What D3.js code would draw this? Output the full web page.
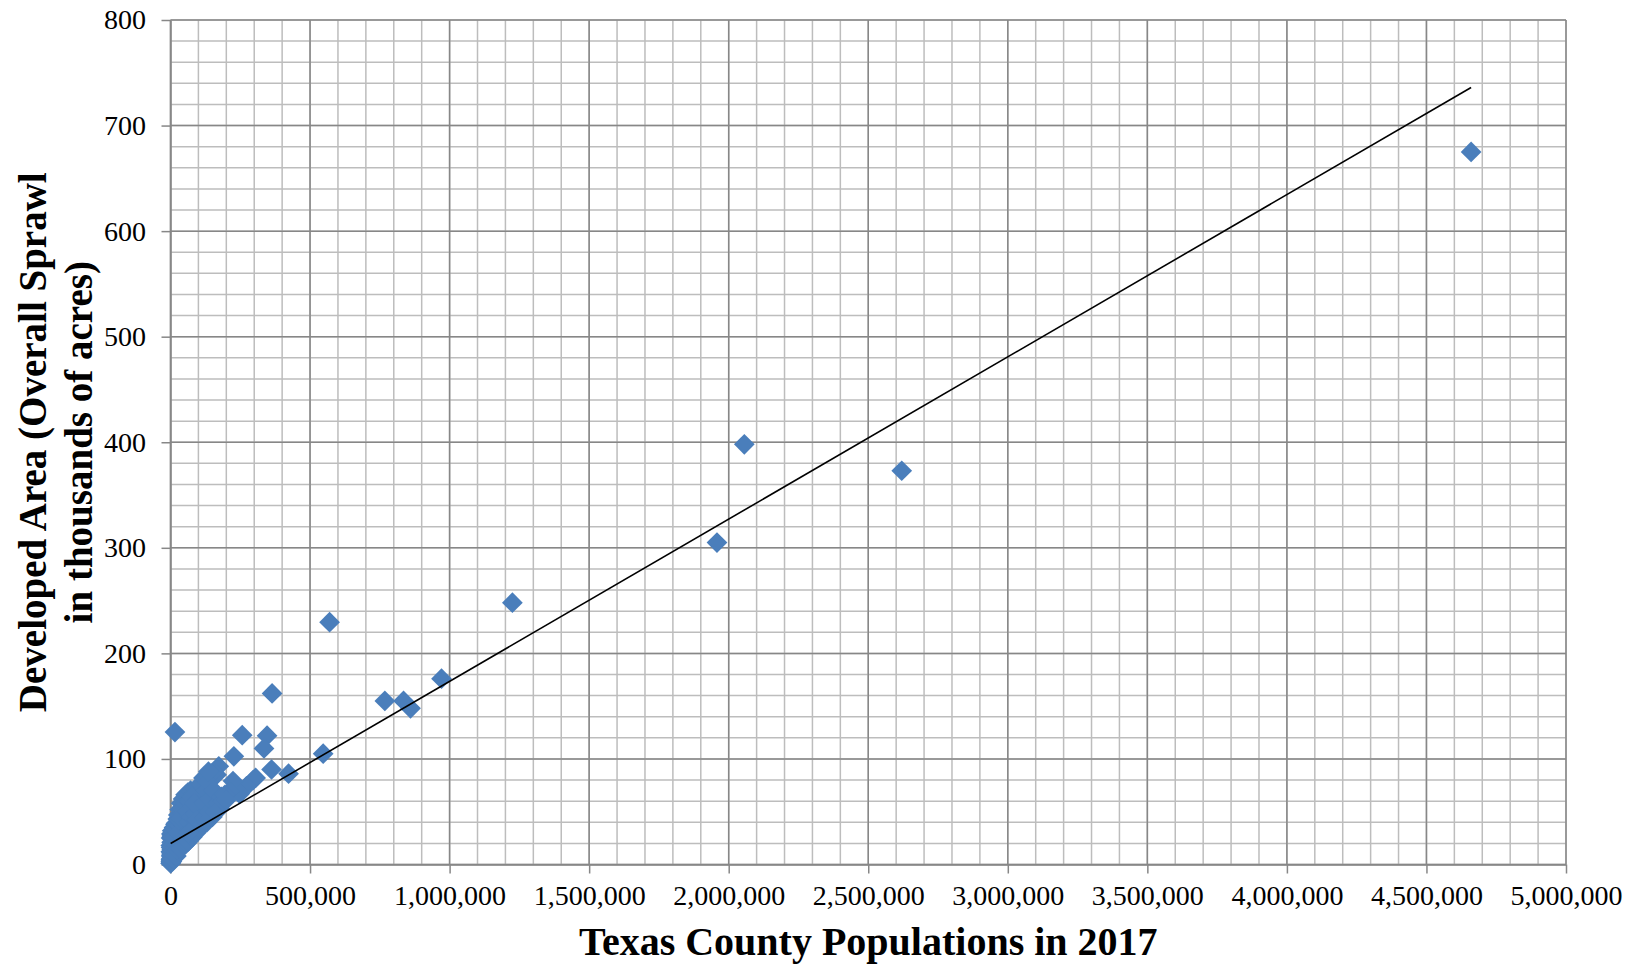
<!DOCTYPE html>
<html>
<head>
<meta charset="utf-8">
<script src="https://cdn.jsdelivr.net/npm/d3@7/dist/d3.min.js"></script>
<style>
  body { margin: 0; background: #fff; }
  svg { display: block; }
</style>
</head>
<body>
<script>
// county population (2017) and developed area (thousand acres)
const population = [
  4660000, 2620000, 2056000, 1958000, 1225000, 971000, 860000, 835000, 768000, 570000,
  547000, 423000, 364000, 362000, 346000, 335000, 305000, 296000, 272000, 257000,
  248000, 227000, 224000, 212000, 173000, 165000, 147000, 16000,
  500, 1000, 1500, 2000, 2500, 3000, 3500, 4000, 4500, 5000,
  5500, 6000, 6500, 7000, 7500, 8000, 8500, 9000, 9500, 1000,
  2000, 3000, 1200, 2200, 4000, 5000, 6000, 3300, 7300, 8700,
  10000, 11000, 12000, 13000, 14000, 15000, 16000, 17000, 18000, 19000,
  20000, 21000, 26000, 23000, 24000, 25000, 12500, 20000, 11500,
  26000, 28000, 30000, 32000, 33000, 35000, 36000, 38000, 40000, 42000,
  44000, 45000, 47000, 49000, 50000, 52000, 54000, 55000, 57000, 58000,
  29000, 31000, 37000, 41000, 46000, 53000, 56000,
  60000, 62000, 64000, 66000, 68000, 70000, 72000, 75000, 78000, 80000,
  82000, 85000, 88000, 90000, 92000, 95000, 98000, 100000, 104000, 108000,
  65000, 77000, 86000, 94000,
  112000, 115000, 118000, 120000, 124000, 127000, 130000, 134000, 138000, 142000,
  150000, 155000, 160000, 170000, 177000, 182000, 188000, 195000, 200000, 136000
]
const developed = [
  675, 373, 398, 305, 248, 176, 148, 155, 155, 229.5,
  105, 86, 162, 90, 122, 110, 82, 80, 74, 122.5,
  67, 102.5, 79, 69, 93, 85, 86, 125.5,
  1, 3, 5, 2, 8, 4, 11, 6, 14, 3,
  9, 17, 12, 5, 20, 8, 15, 24, 11, 18,
  25, 29, 12, 16, 21, 27, 32, 9, 26, 30,
  6, 13, 19, 27, 9, 34, 16, 22, 38, 12,
  28, 8, 43, 18, 31, 24, 35, 39, 25,
  14, 47, 20, 37, 52, 28, 15, 58, 33, 22,
  48, 62, 38, 18, 54, 28, 66, 44, 35, 24,
  30, 42, 44, 53, 27, 58, 20,
  50, 68, 22, 40, 60, 32, 70, 45, 26, 55,
  66, 35, 48, 72, 30, 60, 40, 68, 34, 52,
  30, 64, 58, 42,
  75, 38, 82, 58, 44, 70, 40, 78, 50, 62,
  45, 70, 50, 58, 53, 64, 60, 66, 61, 88
]

// linear trendline as drawn (thousand acres = intercept + slope * population)
const trendIntercept = 19.8
const trendSlope = 153.7 / 1e6

const xTicks = d3.range(0, 5000001, 500000)
const xMinor = d3.range(0, 5000001, 100000)
const yTicks = d3.range(0, 801, 100)
const yMinor = d3.range(0, 801, 20)

const xTitle = 'Texas County Populations in 2017'
const yTitle = ['Developed Area (Overall Sprawl', 'in thousands of acres)']

const width = 1637
const height = 966
const margin = { top: 20, right: 71, bottom: 101.5, left: 170.5 }

const points = population.map((p, i) => ({ pop: p, area: developed[i] }))

const x = d3.scaleLinear().domain([0, 5000000]).range([margin.left, width - margin.right])
const y = d3.scaleLinear().domain([0, 800]).range([height - margin.bottom, margin.top])

const svg = d3
  .select('body')
  .append('svg')
  .attr('width', width)
  .attr('height', height)
  .style('font-family', "'Liberation Serif', serif")

// grid
const grid = svg.append('g')
grid
  .selectAll('.vminor')
  .data(xMinor)
  .join('line')
  .attr('x1', (d) => x(d))
  .attr('x2', (d) => x(d))
  .attr('y1', y(0))
  .attr('y2', y(800))
  .attr('stroke', '#bdbdbd')
  .attr('stroke-width', 1.5)
grid
  .selectAll('.hminor')
  .data(yMinor)
  .join('line')
  .attr('x1', x(0))
  .attr('x2', x(5000000))
  .attr('y1', (d) => y(d))
  .attr('y2', (d) => y(d))
  .attr('stroke', '#bdbdbd')
  .attr('stroke-width', 1.5)
grid
  .selectAll('.vmajor')
  .data(xTicks)
  .join('line')
  .attr('x1', (d) => x(d))
  .attr('x2', (d) => x(d))
  .attr('y1', y(0))
  .attr('y2', y(800))
  .attr('stroke', '#878787')
  .attr('stroke-width', 1.5)
grid
  .selectAll('.hmajor')
  .data(yTicks)
  .join('line')
  .attr('x1', x(0))
  .attr('x2', x(5000000))
  .attr('y1', (d) => y(d))
  .attr('y2', (d) => y(d))
  .attr('stroke', '#878787')
  .attr('stroke-width', 1.5)

// axes
const xAxis = svg
  .append('g')
  .attr('transform', `translate(0,${y(0)})`)
  .call(d3.axisBottom(x).tickValues(xTicks).tickFormat(d3.format(',')).tickSize(9).tickSizeOuter(0))
const yAxis = svg
  .append('g')
  .attr('transform', `translate(${x(0)},0)`)
  .call(d3.axisLeft(y).tickValues(yTicks).tickSize(9).tickSizeOuter(0))

for (const ax of [xAxis, yAxis]) {
  ax.select('.domain').attr('stroke', '#878787').attr('stroke-width', 1.5)
  ax.selectAll('.tick line').attr('stroke', '#878787').attr('stroke-width', 1.5)
  ax.selectAll('text')
    .attr('fill', '#000')
    .style('font-family', "'Liberation Serif', serif")
    .style('font-size', '28px')
}
xAxis.selectAll('text').attr('y', 40.5).attr('dy', 0)
yAxis.selectAll('text').attr('x', -24.5).attr('dy', '0.32em')

// points
svg
  .append('g')
  .selectAll('path')
  .data(points)
  .join('path')
  .attr('d', d3.symbol(d3.symbolSquare, 215)())
  .attr('transform', (d) => `translate(${x(d.pop)},${y(d.area)}) rotate(45)`)
  .attr('fill', '#4a7ebb')

// trendline
const [minPop, maxPop] = d3.extent(population)
svg
  .append('line')
  .attr('x1', x(minPop))
  .attr('y1', y(trendIntercept + trendSlope * minPop))
  .attr('x2', x(maxPop))
  .attr('y2', y(trendIntercept + trendSlope * maxPop))
  .attr('stroke', '#000')
  .attr('stroke-width', 1.6)

// titles
svg
  .append('text')
  .attr('x', (x(0) + x(5000000)) / 2)
  .attr('y', 955)
  .attr('text-anchor', 'middle')
  .style('font-size', '40px')
  .style('font-weight', 'bold')
  .text(xTitle)

svg
  .append('text')
  .attr('transform', `translate(0,${(y(0) + y(800)) / 2}) rotate(-90)`)
  .attr('text-anchor', 'middle')
  .style('font-size', '39px')
  .style('font-weight', 'bold')
  .selectAll('tspan')
  .data(yTitle)
  .join('tspan')
  .attr('x', 0)
  .attr('y', (d, i) => 46 + i * 46)
  .text((d) => d)
</script>
</body>
</html>
